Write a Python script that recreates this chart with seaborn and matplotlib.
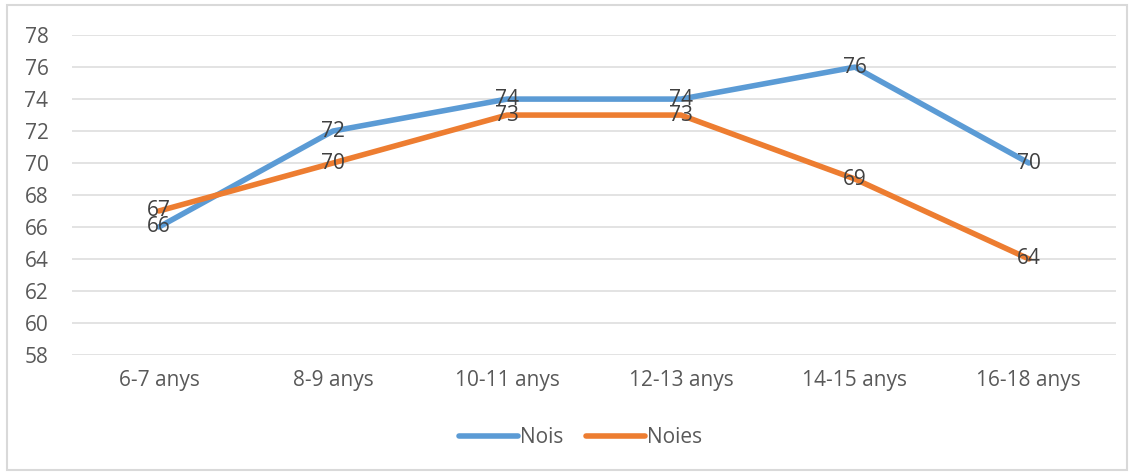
import matplotlib
matplotlib.use('Agg')
import matplotlib.pyplot as plt
import seaborn as sns
import pandas as pd
from matplotlib.patches import Rectangle

# %% data
grups = ['6-7 anys', '8-9 anys', '10-11 anys', '12-13 anys', '14-15 anys', '16-18 anys']
nois = [66, 72, 74, 74, 76, 70]
noies = [67, 70, 73, 73, 69, 64]

df = pd.DataFrame({'grup': grups * 2,
                   'valor': nois + noies,
                   'sexe': ['Nois'] * len(grups) + ['Noies'] * len(grups)})
df['x'] = list(range(len(grups))) * 2

sns.set_style('white')
plt.rcParams['font.family'] = ['Open Sans', 'DejaVu Sans']

fig = plt.figure(figsize=(11.34, 4.75), dpi=100)
ax = fig.add_axes([0.0635, 0.253, 0.9205, 0.673])

# outer frame like the excel chart area
fig.patches.append(Rectangle((7 / 1134, 5 / 475), 1120 / 1134, 465 / 475,
                             transform=fig.transFigure, fill=False,
                             edgecolor='#d9d9d9', linewidth=1.5))

pal = {'Nois': '#5B9BD5', 'Noies': '#ED7D31'}
sns.lineplot(data=df, x='x', y='valor', hue='sexe', palette=pal,
             linewidth=4, ax=ax, legend=False, solid_capstyle='round', zorder=3)

# data labels centred on the points (as in the excel chart)
for sexe, vals in [('Nois', nois), ('Noies', noies)]:
    for i, v in enumerate(vals):
        ax.text(i, v, str(v), ha='center', va='center', fontsize=15,
                color='#404040', zorder=4)

ax.set_xlim(-0.5, len(grups) - 0.5)
ax.set_ylim(58, 78)
ax.set_yticks(range(58, 80, 2))
ax.set_xticks(range(len(grups)))
ax.set_xticklabels(grups)
ax.tick_params(axis='both', labelsize=15, labelcolor='#595959', length=0)
ax.tick_params(axis='x', pad=11)
ax.tick_params(axis='y', pad=17)
ax.grid(axis='y', color='#e0e0e0', linewidth=1.3, zorder=0)
ax.set_xlabel('')
ax.set_ylabel('')
for s in ax.spines.values():
    s.set_visible(False)

handles = [plt.Line2D([], [], color=pal[k], linewidth=4, solid_capstyle='round') for k in ['Nois', 'Noies']]
fig.legend(handles, ['Nois', 'Noies'], loc='center', bbox_to_anchor=(0.512, 0.078), ncol=2,
           frameon=False, fontsize=15, labelcolor='#595959', handlelength=2.8,
           handletextpad=0.1, columnspacing=1.1)

plt.savefig('out.png', dpi=100)
